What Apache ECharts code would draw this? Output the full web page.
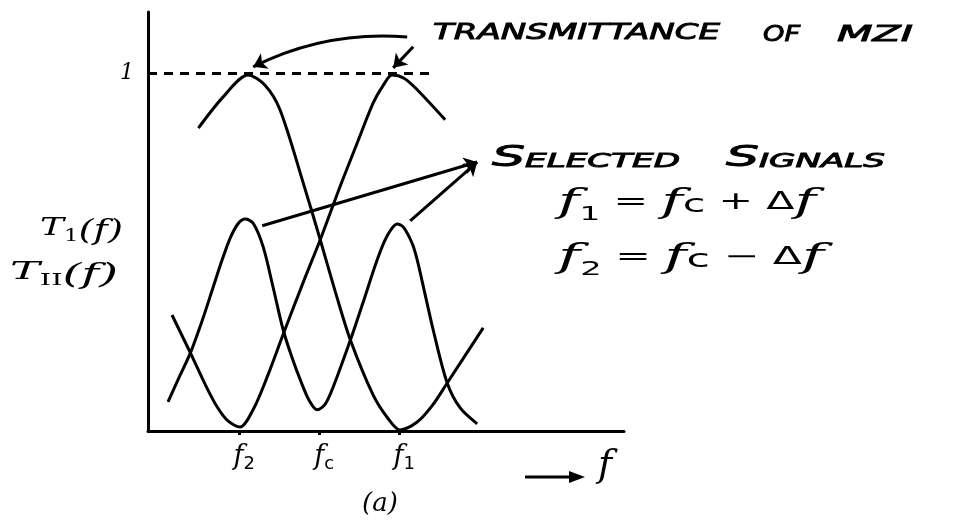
<!DOCTYPE html>
<html>
<head>
<meta charset="utf-8">
<script src="https://cdn.jsdelivr.net/npm/echarts@6/dist/echarts.min.js"></script>
<style>
  html, body { margin: 0; padding: 0; background: #fff; }
  #chart { width: 971px; height: 523px; }
</style>
</head>
<body>
<div id="chart"></div>
<script>
// Frequency axis in units of Δf: f2 = -1, fc = 0, f1 = 1
const tickValues = [-1, 0, 1];
const tickNames = ['f2', 'fc', 'f1'];
const unitLevel = 1;           // full MZI transmittance
const dashedEnd = 1.41;        // where the reference line for "1" stops

// MZI transmittance, port I: maximum at f2, null at f1
const transI = [
  [-1.51, 0.846], [-1.2, 0.933], [-0.89, 0.994], [-0.675, 0.965], [-0.49, 0.897],
  [-0.2, 0.693], [0.013, 0.534], [0.2, 0.39], [0.39, 0.254], [0.675, 0.10],
  [0.86, 0.035], [1.01, 0.003], [1.225, 0.025], [1.41, 0.07], [1.6, 0.134], [2.05, 0.288]
];
// MZI transmittance, port II: null at f2, maximum at f1
const transII = [
  [-1.84, 0.324], [-1.61, 0.218], [-1.425, 0.13], [-1.275, 0.067], [-1.14, 0.028],
  [-0.99, 0.011], [-0.825, 0.06], [-0.65, 0.151], [-0.45, 0.27], [-0.2, 0.415],
  [0.013, 0.534], [0.26, 0.682], [0.475, 0.804], [0.675, 0.916], [0.8, 0.965],
  [0.91, 0.994], [1.06, 0.985], [1.225, 0.953], [1.575, 0.869]
];
// Selected signal spectrum: peaks at f2 and f1, dip at fc
const selected = [
  [-1.89, 0.081], [-1.74, 0.155], [-1.61, 0.218], [-1.46, 0.31], [-1.325, 0.402],
  [-1.21, 0.48], [-1.11, 0.54], [-1.01, 0.58], [-0.925, 0.592], [-0.825, 0.58],
  [-0.7, 0.514], [-0.575, 0.40], [-0.45, 0.282], [-0.34, 0.205], [-0.24, 0.145],
  [-0.125, 0.085], [-0.025, 0.059], [0.075, 0.075], [0.175, 0.123], [0.39, 0.254],
  [0.55, 0.36], [0.725, 0.478], [0.85, 0.545], [0.975, 0.578], [1.05, 0.57],
  [1.16, 0.525], [1.225, 0.478], [1.325, 0.38], [1.425, 0.282], [1.6, 0.134],
  [1.76, 0.065], [1.975, 0.02]
];

// Annotation pointers, in data coordinates [start, end]
const mziArrowLong = [[1.1, 1.10], [-0.825, 1.017]];
const mziArrowShort = [[1.175, 1.073], [0.925, 1.014]];
const signalPointerA = [[-0.7125, 0.573], [1.975, 0.751]];
const signalPointerB = [[1.1375, 0.587], [1.975, 0.751]];

const X_MIN = -2.14, X_MAX = 3.81, Y_MAX = 1.17;

const ink = '#000';
const measureCtx = document.createElement('canvas').getContext('2d');
function widthOf(str, font) { measureCtx.font = font; return measureCtx.measureText(str).width; }

// Rich text block stretched horizontally to a given width
function stretchedText(tokens, styles, left, cy, targetW) {
  let w = 0;
  tokens.forEach(([t, s]) => { w += widthOf(t, styles[s].font); });
  const text = tokens.map(([t, s]) => '{' + s + '|' + t + '}').join('');
  const style = { text, rich: styles, fill: ink, align: 'left', verticalAlign: 'middle',
                  textAlign: 'left', textVerticalAlign: 'middle' };
  return { type: 'text', x: left, y: cy, scaleX: targetW / w, silent: true, style };
}

const capsFont = 'italic 22px "DejaVu Sans"';
const capsBig = 'italic 29px "DejaVu Sans"';
const capsSmall = 'italic 19px "DejaVu Sans"';
const capsStyles = {
  a: { font: capsFont, lineHeight: 30, fill: ink, stroke: ink, lineWidth: 0.9 },
  B: { font: capsBig, lineHeight: 34, fill: ink, stroke: ink, lineWidth: 0.9 },
  s: { font: capsSmall, lineHeight: 34, fill: ink, stroke: ink, lineWidth: 0.9,
       verticalAlign: 'bottom', padding: [0, 0, 3, 0] }
};
const mathStyles = {
  f: { font: 'italic 34px "DejaVu Serif"', lineHeight: 44, fill: ink },
  sub: { font: '19px "DejaVu Sans"', lineHeight: 24, fill: ink, verticalAlign: 'bottom' },
  c: { font: '24px "DejaVu Sans"', lineHeight: 44, fill: ink, padding: [6, 0, 0, 0] },
  op: { font: '24px "DejaVu Sans"', lineHeight: 44, fill: ink }
};
const labelStyles = {
  T: { font: 'italic 25px "DejaVu Serif"', lineHeight: 30, fill: ink },
  sub: { font: '16px "DejaVu Serif"', lineHeight: 18, fill: ink, verticalAlign: 'bottom' },
  p: { font: 'italic 27px "DejaVu Serif"', lineHeight: 34, fill: ink, padding: [8, 0, 0, 0] }
};

const graphics = [
  stretchedText([['TRANSMITTANCE', 'a']], capsStyles, 433, 33, 287),
  stretchedText([['OF', 'a']], capsStyles, 763, 35, 37),
  stretchedText([['MZI', 'a']], capsStyles, 837, 35, 76),
  stretchedText([['S', 'B'], ['ELECTED', 's']], capsStyles, 492, 158, 188),
  stretchedText([['S', 'B'], ['IGNALS', 's']], capsStyles, 726, 158, 159),
  stretchedText([['f', 'f'], ['1', 'sub'], [' = ', 'op'], ['f', 'f'], ['c', 'c'], [' + ', 'op'], ['Δ', 'op'], ['f', 'f']],
                mathStyles, 558, 203, 258),
  stretchedText([['f', 'f'], ['2', 'sub'], [' = ', 'op'], ['f', 'f'], ['c', 'c'], [' − ', 'op'], ['Δ', 'op'], ['f', 'f']],
                mathStyles, 558, 258, 266),
  stretchedText([['T', 'T'], ['1', 'sub'], ['(f)', 'p']], labelStyles, 40, 228, 83),
  stretchedText([['T', 'T'], ['II', 'sub'], ['(f)', 'p']], labelStyles, 10, 272, 108),
  // frequency direction arrow and axis name
  { type: 'line', silent: true, shape: { x1: 525, y1: 477, x2: 575, y2: 477 },
    style: { stroke: ink, lineWidth: 3 } },
  { type: 'polygon', silent: true, shape: { points: [[585, 477], [569, 471], [569, 483]] },
    style: { fill: ink } },
  { type: 'text', x: 598, y: 466, silent: true,
    style: { text: 'f', font: 'italic 38px "DejaVu Serif"', fill: ink,
             align: 'left', verticalAlign: 'middle', textAlign: 'left', textVerticalAlign: 'middle' } },
  { type: 'text', x: 380, y: 504, silent: true,
    style: { text: '(a)', font: 'italic 26px "DejaVu Serif"', fill: ink,
             align: 'center', verticalAlign: 'middle', textAlign: 'center', textVerticalAlign: 'middle' } }
];

function curve(name, data) {
  return {
    name, type: 'line', data, smooth: 0.3, showSymbol: false, clip: false,
    lineStyle: { color: ink, width: 3 }, itemStyle: { color: ink },
    silent: true, animation: false
  };
}

const series = [
  curve('T_I', transI),
  curve('T_II', transII),
  curve('Selected signals', selected)
];
// dashed unit level
series[0].markLine = {
  silent: true, animation: false, symbol: 'none',
  label: { show: false },
  emphasis: { disabled: true },
  lineStyle: { type: [9, 7], width: 3, color: ink },
  data: [[{ coord: [X_MIN, unitLevel] }, { coord: [dashedEnd, unitLevel] }]]
};
// caption pointers with arrow heads
series.push({
  name: 'pointers', type: 'lines', coordinateSystem: 'cartesian2d',
  silent: true, animation: false,
  symbol: ['none', 'arrow'], symbolSize: [0, 13],
  lineStyle: { color: ink, width: 3, opacity: 1 },
  data: [
    { coords: mziArrowLong, lineStyle: { curveness: -0.14 } },
    { coords: mziArrowShort },
    { coords: signalPointerA },
    { coords: signalPointerB }
  ]
});

const chart = echarts.init(document.getElementById('chart'), null, { renderer: 'canvas' });
chart.setOption({
  backgroundColor: '#fff',
  animation: false,
  grid: { left: 148, right: 347, top: 12, bottom: 92, containLabel: false },
  xAxis: {
    type: 'value', min: X_MIN, max: X_MAX,
    axisLine: { show: true, onZero: false, lineStyle: { color: ink, width: 3 } },
    axisTick: { show: true, customValues: tickValues, length: 4, lineStyle: { color: ink, width: 3 } },
    splitLine: { show: false },
    axisLabel: {
      customValues: tickValues, margin: 10, color: ink, padding: [0, 0, 0, 10],
      formatter: v => {
        const n = tickNames[tickValues.indexOf(v)] || '';
        return '{f|' + n.charAt(0) + '}{s|' + n.slice(1) + '}';
      },
      rich: {
        f: { fontFamily: 'DejaVu Serif', fontStyle: 'italic', fontSize: 27, lineHeight: 32, color: ink },
        s: { fontFamily: 'DejaVu Sans', fontSize: 18, lineHeight: 20, verticalAlign: 'bottom', color: ink }
      }
    }
  },
  yAxis: {
    type: 'value', min: 0, max: Y_MAX,
    axisLine: { show: true, onZero: false, lineStyle: { color: ink, width: 3 } },
    axisTick: { show: false },
    splitLine: { show: false },
    axisLabel: {
      customValues: [unitLevel], margin: 14, color: ink,
      fontFamily: 'DejaVu Serif', fontStyle: 'italic', fontSize: 22,
      formatter: () => '1'
    }
  },
  graphic: graphics,
  series
});
</script>
</body>
</html>
